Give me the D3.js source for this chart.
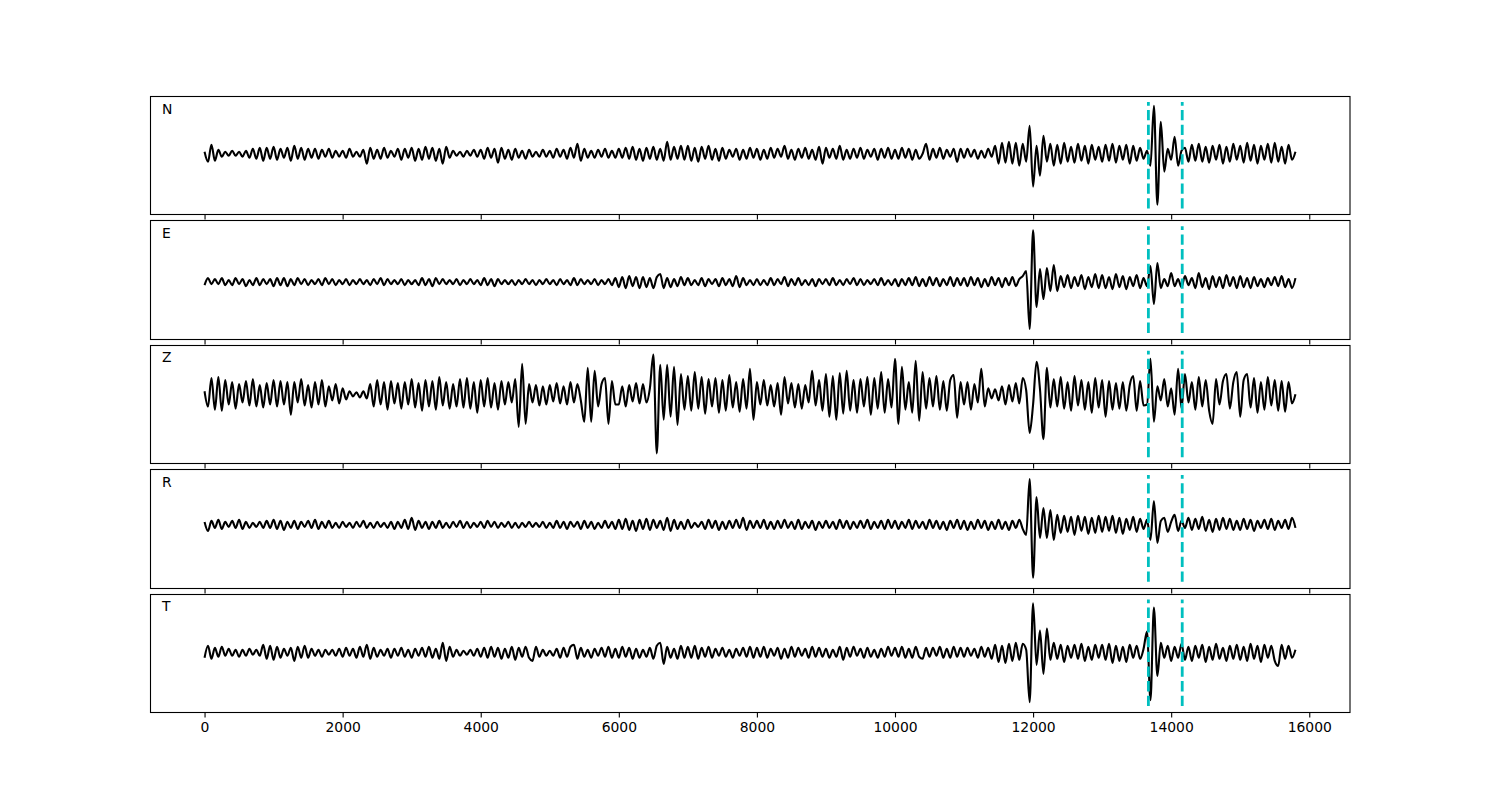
<!DOCTYPE html>
<html><head><meta charset="utf-8">
<script src="https://cdn.jsdelivr.net/npm/d3@7"></script>
<style>body{margin:0;background:#fff}svg text{font-family:"DejaVu Sans",sans-serif}</style>
</head><body>
<svg id="chart" width="1500" height="800"></svg>
<script>
// ---- data ----
const sampleStep = 50;          // samples every 50 units, 0 .. 15800
const channels = ["N", "E", "Z", "R", "T"];
const picks = [13670, 14160];
const xTicks = [0, 2000, 4000, 6000, 8000, 10000, 12000, 14000, 16000];

const traceN = [
 2,-8,9,-7,4,-3,2,-2,3,-2,2,-3,3,-4,5,-5,6,-7,6,-5,
 7,-6,5,-4,6,-7,8,-5,6,-6,5,-4,5,-5,4,-3,5,-4,3,-3,
 3,-4,5,-3,2,-3,4,-10,6,-5,4,-5,6,-4,3,-3,5,-6,5,-4,
 6,-7,5,-6,7,-5,6,-7,5,-10,7,-4,3,-2,2,-3,3,-2,4,-3,
 4,-5,6,-4,5,-9,6,-5,4,-6,5,-4,3,-5,4,-3,2,-3,4,-3,
 3,-4,5,-3,4,-5,6,-4,10,-7,5,-4,3,-4,4,-3,5,-4,3,-4,
 5,-4,6,-5,7,-6,5,-7,6,-5,7,-6,5,-7,12,-6,7,-5,8,-6,
 8,-7,6,-8,7,-5,8,-6,5,-7,6,-5,4,-3,5,-6,4,-5,6,-4,
 5,-6,4,-5,6,-4,5,-3,8,-5,4,-6,5,-4,6,-5,4,-6,7,-10,
 6,-4,5,-5,8,-6,4,-5,5,-4,6,-5,4,-3,5,-6,5,-4,6,-5,
 4,-5,6,-4,5,-6,4,-5,0,10,-6,5,-4,6,-5,4,-3,5,-8,5,
 -4,5,-3,4,-5,3,-4,5,-3,8,-10,11,-9,12,-10,11,-12,10,-8,28,
 -33,8,-22,18,-8,10,-12,9,-10,11,-8,7,-9,10,-7,8,-10,9,-6,7,
 -8,9,-7,10,-9,8,-6,9,-10,8,-7,6,-5,3,-12,48,-51,32,-18,5,
 -6,17,-12,3,6,-8,9,-7,10,-8,7,-9,8,-6,9,-10,7,-8,10,-6,
 8,-9,11,-7,9,-10,8,-6,10,-9,11,-8,7,-10,9,-6,2
];
const traceE = [
 -3,4,-2,3,-2,4,-3,2,-3,4,-2,3,-4,2,-3,4,-3,3,-2,3,
 -4,4,-3,4,-4,3,-3,4,-2,3,-3,2,-2,3,-3,4,-2,3,-3,2,
 -2,3,-3,2,-2,3,-2,2,-3,3,-2,4,-3,3,-2,2,-2,3,-3,2,
 -2,2,-3,4,-3,3,-4,4,-2,3,-2,2,-2,3,-3,2,-2,3,-2,2,
 -3,4,-3,3,-4,3,-2,2,-2,2,-3,2,-2,3,-2,2,-3,2,-2,3,
 -2,2,-3,3,-2,2,-3,4,-3,3,-2,2,-2,3,-3,2,-2,3,-3,4,
 -5,5,-6,6,-4,5,-6,5,-5,4,-6,5,8,-6,4,-5,3,-4,5,-3,
 4,-3,2,-3,4,-4,3,-2,3,-4,4,-3,3,-4,6,-5,4,-3,2,-3,
 3,-3,2,-3,4,-3,3,-2,5,-4,3,-3,4,-3,2,-3,3,-4,3,-2,
 3,-3,4,-3,2,-3,3,-2,4,-3,3,-3,2,-2,3,-3,4,-3,2,-3,
 3,-4,3,-3,4,-3,5,-4,3,-4,5,-3,4,-4,3,-3,5,-4,4,-3,
 4,-4,5,-3,4,-5,3,-4,5,-3,4,-5,4,-3,5,-4,3,6,11,-47,
 52,-25,13,-17,14,-9,17,-9,6,-5,7,-6,5,-4,7,-7,5,-5,8,-6,
 7,-6,5,-7,8,-5,6,-7,5,-4,7,-6,4,-4,16,-22,19,-6,3,-4,
 9,-4,3,-5,6,-3,4,-6,9,-5,4,-7,6,-5,5,-6,7,-4,5,-6,
 6,-5,4,-6,5,-4,3,-5,4,-3,5,-4,6,-5,3,-6,4
];
const traceZ = [
 3,-12,16,-15,17,-16,14,-10,12,-14,10,-8,13,-11,15,-12,9,-13,11,-10,
 14,-12,13,-10,12,-20,12,-8,15,-11,9,-13,12,-10,14,-12,8,-6,10,-9,
 6,-5,3,-2,2,-3,3,-4,10,-12,14,-10,12,-15,13,-9,11,-14,12,-10,
 15,-13,11,-16,14,-12,13,-15,17,-11,12,-14,10,-12,15,-13,16,-14,12,-18,
 14,-12,16,-13,11,-15,13,-10,12,-8,15,-32,30,-29,10,-8,9,-11,8,-10,
 9,-7,11,-9,8,-10,12,-8,10,-6,-27,26,-27,23,-12,10,16,-29,13,-10,
 -10,8,-12,9,-7,11,-9,10,-8,6,39,-58,29,-25,29,-22,27,-30,20,-15,
 18,-16,22,-14,17,-19,15,-12,16,-18,14,-16,19,-13,12,-17,15,-14,25,-25,
 12,-10,14,-11,9,-12,11,-20,17,-9,11,-13,10,-14,9,-8,23,-11,14,-16,
 20,-22,18,-25,21,-19,23,-16,14,-18,15,-12,17,-20,16,-14,22,-18,15,-13,
 35,-29,27,-15,12,-18,33,-26,22,-14,16,-12,18,-15,13,-16,14,19,-23,12,
 -10,12,-15,10,-8,25,-12,6,-4,5,-6,8,-10,9,-7,11,-9,16,4,-38,
 -10,32,5,-44,26,-13,15,-12,17,-14,12,-16,18,-11,14,-15,12,-18,16,-13,
 14,-22,13,-15,11,-14,12,-16,9,18,-16,13,-11,-10,35,-27,8,-6,15,-12,
 6,-20,25,-14,20,-8,12,-15,17,-12,14,-16,-29,15,-10,13,20,-14,12,22,
 -22,14,20,-13,16,-18,12,-15,17,-11,14,-16,13,-17,12,-9,0
];
const traceR = [
 3,-6,4,-3,5,-4,3,-2,4,-3,5,-4,3,-3,2,-2,3,-3,4,-3,
 5,-4,4,-5,3,-3,4,-4,3,-2,4,-3,5,-4,3,-3,4,-3,2,-3,
 3,-2,2,-3,3,-2,4,-3,2,-3,3,-2,2,-3,3,-4,3,-3,5,-4,
 7,-5,4,-3,3,-4,3,-3,4,-3,2,-3,3,-2,4,-3,3,-3,2,-2,
 3,-3,4,-2,3,-3,2,-2,3,-3,2,-3,2,-2,3,-2,2,-2,3,-3,
 2,-3,4,-3,3,-4,3,-2,3,-4,4,-3,3,-4,2,-3,4,-3,3,-4,
 5,-4,6,-5,4,-6,5,-4,6,-5,5,-3,4,-5,7,-6,5,-4,3,-4,
 5,-3,2,-2,3,-4,5,-3,4,-5,3,-4,4,-3,5,-3,7,-5,4,-3,
 4,-3,5,-4,3,-4,4,-3,5,-3,3,-4,5,-4,3,-3,4,-5,3,-3,
 4,-3,3,-4,5,-3,4,-4,3,-3,4,-3,5,-4,3,-3,4,-4,5,-3,
 4,-4,3,-3,5,-4,4,-3,3,-4,5,-3,4,-4,3,-5,4,-3,5,-4,
 4,-5,3,-4,5,-3,4,-5,3,-4,5,-4,3,-5,4,-3,5,-4,-10,46,
 -53,28,-13,17,-13,15,-15,10,-8,9,-7,8,-10,9,-6,8,-9,7,-8,9,
 -7,8,-6,9,-8,7,-9,6,-5,8,-7,6,-4,5,-15,24,-18,4,7,-7,
 3,10,-6,4,-3,7,-5,6,-4,8,-6,5,-7,6,-5,7,-4,6,-5,4,
 -5,6,-4,5,-6,4,-3,5,-4,6,-5,4,-3,5,-4,7,-3
];
const traceT = [
 -5,7,-6,5,-4,6,-3,4,-3,3,-4,3,-3,4,-2,3,-3,8,-6,7,
 -7,6,-5,4,-3,5,-8,6,-5,7,-5,4,-3,3,-4,3,-2,3,-3,4,
 -4,5,-3,4,-5,6,-4,8,-6,5,-4,3,-3,4,-5,4,-3,5,-4,3,
 -5,4,-3,5,-4,6,-5,4,-6,10,-8,6,-4,3,-3,2,-2,3,-3,4,
 -4,5,-5,6,-4,5,-6,4,-5,6,-7,5,-4,6,-5,-8,6,-4,3,-3,
 2,-3,4,-5,5,-4,6,8,-6,5,-4,3,-5,4,-3,5,-4,6,-5,4,
 -5,6,-4,5,-6,4,-5,3,-4,5,-6,7,10,-11,6,-5,4,-6,7,-5,
 6,-5,7,-6,5,-4,6,-5,4,-3,5,-4,3,-5,4,-3,5,-4,6,-5,
 5,-4,6,-5,4,-3,5,-6,4,-5,6,-4,5,-3,4,-5,6,-4,5,-4,
 4,-5,3,-4,6,-7,5,-4,6,-3,4,-5,5,-4,3,-5,4,-4,6,-3,
 5,-4,6,-5,4,-5,6,-4,-6,5,-4,5,-3,6,-5,4,-5,6,-4,5,
 -4,5,-3,4,-5,6,-4,5,-6,8,-9,7,-10,9,-8,10,-7,9,3,-49,
 49,-12,22,-21,24,-7,10,-6,8,-9,7,-5,8,-6,9,-8,6,-7,8,-5,
 8,-7,9,-10,7,-8,6,-9,8,-5,7,-6,4,21,-47,45,-23,10,-5,7,
 -8,6,-5,9,-7,6,-8,7,-5,8,-9,6,-7,9,-6,5,-8,7,-6,8,
 -7,6,-8,9,-6,7,-9,8,-5,7,-8,-13,8,-6,7,-5,3
];
const traces = [traceN, traceE, traceZ, traceR, traceT];

// ---- layout ----
const W = 1500, H = 800;
const figL = 150, figR = 1350, figT = 96, figB = 712;
const nP = channels.length, hs = 0.05;
const pH = (figB - figT) / (nP + (nP - 1) * hs);
const gap = pH * hs;

const svg = d3.select("#chart");
const xMax = (traceN.length - 1) * sampleStep;
const xm = 0.05 * xMax;
const x = d3.scaleLinear().domain([-xm, xMax + xm]).range([figL, figR]);

channels.forEach((ch, k) => {
  const data = traces[k].map((v, i) => ({t: i * sampleStep, v}));
  const top = figT + k * (pH + gap), bot = top + pH;
  const ext = d3.extent(data, d => d.v);
  const pad = 0.1 * (ext[1] - ext[0]);
  const y = d3.scaleLinear().domain([ext[0] - pad, ext[1] + pad]).range([bot, top]);
  const g = svg.append("g");

  const line = d3.line().x(d => x(d.t)).y(d => y(d.v)).curve(d3.curveMonotoneX);
  g.append("path").datum(data).attr("d", line)
    .attr("fill", "none").attr("stroke", "#000").attr("stroke-width", 2.1)
    .attr("stroke-linejoin", "round");

  const yr = d3.scaleLinear().domain([0, 1]).range([bot, top]);
  g.selectAll("line.pick").data(picks).join("line").attr("class", "pick")
    .attr("x1", d => x(d)).attr("x2", d => x(d))
    .attr("y1", yr(0.05)).attr("y2", yr(0.95))
    .attr("stroke", "#00bfbf").attr("stroke-width", 2.8)
    .attr("stroke-dasharray", "10.3,4.4");

  g.append("rect").attr("x", figL + 0.5).attr("y", Math.round(top) + 0.5)
    .attr("width", figR - figL - 0.5).attr("height", Math.round(bot) - Math.round(top))
    .attr("fill", "none").attr("stroke", "#000").attr("stroke-width", 1.1);

  const axis = d3.axisBottom(x).tickValues(xTicks).tickSize(4.9).tickPadding(4.9)
    .tickFormat(k === nP - 1 ? d3.format("d") : () => "");
  const ag = g.append("g").attr("transform", `translate(0,${Math.round(bot) + 0.5})`).call(axis);
  ag.select(".domain").remove();
  ag.selectAll(".tick line").attr("stroke", "#000").attr("stroke-width", 1.1);
  ag.selectAll(".tick text").attr("font-size", "13.9px").attr("fill", "#000")
    .attr("font-family", "DejaVu Sans");

  g.append("text").attr("x", figL + 12).attr("y", top + 17.5)
    .attr("font-size", "13.9px").attr("fill", "#000").text(ch);
});
</script>
</body></html>
